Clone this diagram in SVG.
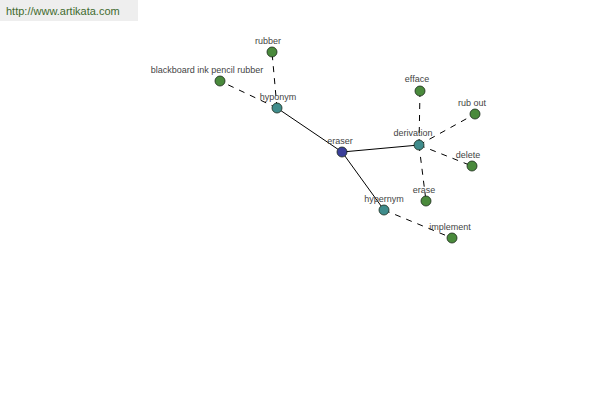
<svg xmlns="http://www.w3.org/2000/svg" width="600" height="400" viewBox="0 0 600 400">
<style>
.e{stroke:#000;stroke-width:1;fill:none}
.d{stroke:#000;stroke-width:1;fill:none;stroke-dasharray:6,6}
.n circle{stroke:#1a2a1a;stroke-width:0.8}
.g{fill:#4a8a3c}
.t{fill:#3f8c8c}
.c{fill:#3a3f9a}
text{font-family:"Liberation Sans",Arial,sans-serif;font-size:9px;fill:#444;text-anchor:middle}
</style>
<rect width="600" height="400" fill="#fff"/>
<rect x="0" y="0" width="138" height="21" fill="#eeeeee"/>
<text x="6" y="15" style="text-anchor:start;font-size:11px;fill:#3f6b2f">http://www.artikata.com</text>
<g id="connectors">
<line class="e" x1="342" y1="152" x2="277" y2="108"/>
<line class="e" x1="342" y1="152" x2="419" y2="145"/>
<line class="e" x1="342" y1="152" x2="384" y2="210"/>
<line class="d" x1="277" y1="108" x2="272" y2="52"/>
<line class="d" x1="277" y1="108" x2="220" y2="81"/>
<line class="d" x1="419" y1="145" x2="420" y2="91"/>
<line class="d" x1="419" y1="145" x2="475" y2="114"/>
<line class="d" x1="419" y1="145" x2="472" y2="166"/>
<line class="d" x1="419" y1="145" x2="426" y2="201"/>
<line class="d" x1="384" y1="210" x2="452" y2="238"/>
</g>
<g id="eraser" class="n"><circle class="c" cx="342" cy="152" r="5"/><text x="340" y="144">eraser</text></g>
<g id="hyponym" class="n"><circle class="t" cx="277" cy="108" r="5"/><text x="278" y="100">hyponym</text></g>
<g id="derivation" class="n"><circle class="t" cx="419" cy="145" r="5"/><text x="413" y="136">derivation</text></g>
<g id="hypernym" class="n"><circle class="t" cx="384" cy="210" r="5"/><text x="384" y="202">hypernym</text></g>
<g id="rubber" class="n"><circle class="g" cx="272" cy="52" r="5"/><text x="268" y="44">rubber</text></g>
<g id="blackboard" class="n"><circle class="g" cx="220" cy="81" r="5"/><text x="207" y="73">blackboard ink pencil rubber</text></g>
<g id="efface" class="n"><circle class="g" cx="420" cy="91" r="5"/><text x="417" y="82">efface</text></g>
<g id="rubout" class="n"><circle class="g" cx="475" cy="114" r="5"/><text x="472" y="106">rub out</text></g>
<g id="delete" class="n"><circle class="g" cx="472" cy="166" r="5"/><text x="468" y="158">delete</text></g>
<g id="erase" class="n"><circle class="g" cx="426" cy="201" r="5"/><text x="424" y="193">erase</text></g>
<g id="implement" class="n"><circle class="g" cx="452" cy="238" r="5"/><text x="450" y="230">implement</text></g>
</svg>
